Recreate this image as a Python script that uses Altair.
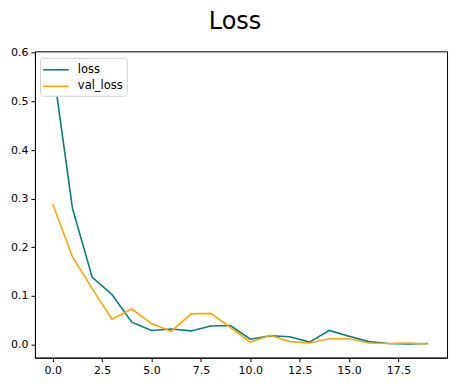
import altair as alt
import pandas as pd

epochs = list(range(20))
loss = [0.574, 0.280, 0.138, 0.103, 0.046, 0.029, 0.032, 0.028, 0.038, 0.039,
        0.011, 0.018, 0.016, 0.005, 0.029, 0.017, 0.006, 0.002, 0.001, 0.002]
val_loss = [0.289, 0.180, 0.115, 0.052, 0.073, 0.043, 0.027, 0.063, 0.064, 0.035,
            0.005, 0.019, 0.006, 0.003, 0.012, 0.012, 0.003, 0.002, 0.003, 0.001]
series = ["loss", "val_loss"]
colors = ["teal", "orange"]
x_ticks = [0, 2.5, 5, 7.5, 10, 12.5, 15, 17.5]
y_ticks = [0.0, 0.1, 0.2, 0.3, 0.4, 0.5, 0.6]

df = pd.DataFrame(
    [{"epoch": e, "value": v, "series": "loss"} for e, v in zip(epochs, loss)]
    + [{"epoch": e, "value": v, "series": "val_loss"} for e, v in zip(epochs, val_loss)]
)

font = "DejaVu Sans"

axis_style = dict(title=None, grid=False, format=".1f",
                  domainColor="black", tickColor="black", tickSize=4,
                  labelColor="black", labelFontSize=11, labelFont=font,
                  labelPadding=3)

chart = alt.Chart(df).mark_line(strokeWidth=1.6, clip=True).encode(
    x=alt.X("epoch:Q",
            scale=alt.Scale(domain=[-0.9, 19.96], nice=False, zero=False),
            axis=alt.Axis(values=x_ticks, **axis_style)),
    y=alt.Y("value:Q",
            scale=alt.Scale(domain=[-0.027, 0.603], nice=False, zero=False),
            axis=alt.Axis(values=y_ticks, **axis_style)),
    color=alt.Color("series:N",
                    scale=alt.Scale(domain=series, range=colors),
                    legend=alt.Legend(title=None, orient="none",
                                      legendX=5, legendY=6.5,
                                      fillColor="white", strokeColor="#d0d0d0",
                                      padding=3, cornerRadius=3,
                                      symbolType="M-1.6,0H1.6",
                                      symbolStrokeWidth=1.6,
                                      symbolSize=256, symbolOffset=4,
                                      labelFontSize=11.5,
                                      labelFont=font, labelColor="black",
                                      rowPadding=1.6, labelOffset=13)),
).properties(
    width=413,
    height=307,
    title=alt.Title("Loss", fontSize=24, font=font, fontWeight="normal",
                    color="black", anchor="middle", offset=13, dx=-6),
    autosize=alt.AutoSizeParams(type="none"),
    padding={"left": 27, "top": 43, "right": 18, "bottom": 30},
).configure_view(
    stroke="black", strokeWidth=1
)

chart.save("out.html", embed_options={"renderer": "svg", "actions": False})
